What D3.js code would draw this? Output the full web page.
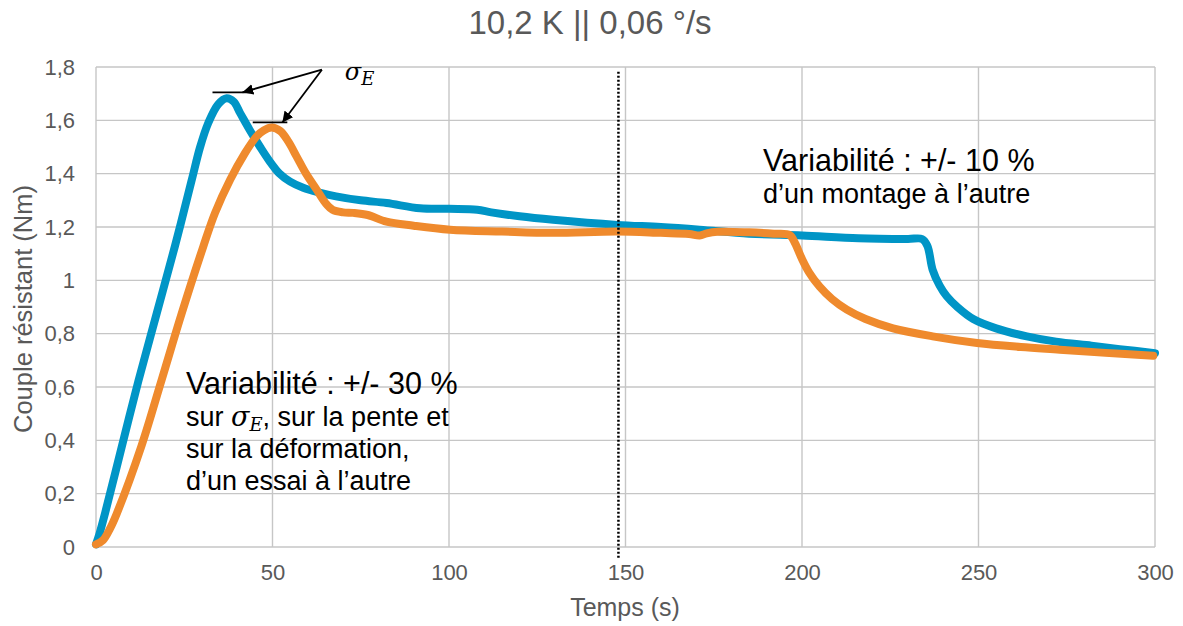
<!DOCTYPE html>
<html><head><meta charset="utf-8">
<script src="https://cdn.jsdelivr.net/npm/d3@7"></script>
<style>body{margin:0;background:#fff;} svg{display:block;font-family:"Liberation Sans",Arial,sans-serif;}</style>
</head><body>
<svg id="c" width="1183" height="626"></svg>
<script>
const title = "10,2 K || 0,06 °/s";
const xLabel = "Temps (s)";
const yLabel = "Couple résistant (Nm)";
const xTicks = [0, 50, 100, 150, 200, 250, 300];
const yTicks = [0, 0.2, 0.4, 0.6, 0.8, 1, 1.2, 1.4, 1.6, 1.8];
const yTickLabels = ["0", "0,2", "0,4", "0,6", "0,8", "1", "1,2", "1,4", "1,6", "1,8"];

const blueT = [0,1,2.55,7.3,12,17.2,22.4,27.1,29.5,31.8,34.6,37,39,40.8,43.5,46.5,49,52,55,58.7,63,68,75,82.3,91.8,100,108,112,120,129.5,147.6,160,171,185,200,216,230,234,235.5,237,239,241,244,248.5,255,263.7,272,282,290,300];
const blueV = [0.01,0.05,0.126,0.376,0.622,0.876,1.13,1.375,1.5,1.59,1.66,1.683,1.67,1.628,1.565,1.5,1.45,1.4,1.37,1.347,1.33,1.315,1.3,1.29,1.27,1.268,1.265,1.255,1.24,1.227,1.208,1.2,1.19,1.175,1.168,1.158,1.155,1.155,1.13,1.04,0.98,0.94,0.9,0.855,0.82,0.79,0.77,0.755,0.742,0.727];

const orangeT = [0,2,4,5.9,12.9,18.6,24.3,30.4,33.7,38,42.2,45.5,47.5,49.8,52.2,54.5,56.8,59.5,62.5,65,67,70,72.9,77,82.3,90,100.3,115,129.5,147.6,160,168,171,173,176,185,192,196.5,198,200,202,205,208.5,212.7,218,225.8,237,249.6,262,273,286,299.5];
const orangeV = [0.01,0.026,0.07,0.126,0.38,0.627,0.877,1.127,1.252,1.377,1.477,1.54,1.562,1.573,1.56,1.52,1.465,1.4,1.34,1.29,1.265,1.255,1.253,1.245,1.22,1.205,1.19,1.183,1.178,1.183,1.178,1.174,1.168,1.176,1.182,1.18,1.175,1.17,1.14,1.08,1.03,0.976,0.93,0.89,0.855,0.82,0.79,0.765,0.75,0.74,0.728,0.717];

const dottedX = 148;
const dottedY = [-0.04, 1.79];
// sigma_E annotation (data coordinates)
const sigmaLabelPos = [70.5, 1.75];
const arrowFrom = [64, 1.79];
const arrowTips = [[41.5, 1.705], [52.8, 1.592]];
const peakMarks = [[[33, 43.6], 1.705], [[44.4, 54.2], 1.592]];
const noteLeft = ["sur la déformation,", "d’un essai à l’autre"];

const svg = d3.select("#c");
const x = d3.scaleLinear().domain([0, 300]).range([96, 1155]);
const y = d3.scaleLinear().domain([0, 1.8]).range([547, 67]);
const grid = "#c6c6c6", tickCol = "#595959";

// gridlines
svg.append("g").selectAll("line").data(yTicks).join("line")
  .attr("x1", x(0)).attr("x2", x(300)).attr("y1", d => y(d)).attr("y2", d => y(d))
  .attr("stroke", grid).attr("stroke-width", 1.4);
svg.append("g").selectAll("line").data(xTicks).join("line")
  .attr("x1", d => x(d)).attr("x2", d => x(d)).attr("y1", y(0)).attr("y2", y(1.8))
  .attr("stroke", grid).attr("stroke-width", 1.4);

// axes via d3
const xAxis = svg.append("g").attr("transform", `translate(0,${y(0)})`)
  .call(d3.axisBottom(x).tickValues(xTicks).tickSize(0).tickPadding(17).tickFormat(d3.format("d")));
xAxis.select(".domain").remove();
xAxis.selectAll("text").attr("fill", tickCol).style("font-size", "22px").style("font-family", "Liberation Sans, Arial");
const yAxis = svg.append("g").attr("transform", `translate(${x(0)},0)`)
  .call(d3.axisLeft(y).tickValues(yTicks).tickSize(0).tickPadding(21).tickFormat((d, i) => yTickLabels[i]));
yAxis.select(".domain").remove();
yAxis.selectAll("text").attr("fill", tickCol).style("font-size", "22px").style("font-family", "Liberation Sans, Arial");

// titles
svg.append("text").attr("x", 590).attr("y", 34).attr("text-anchor", "middle")
  .attr("fill", tickCol).style("font-size", "33px").text(title);
svg.append("text").attr("x", 625).attr("y", 616).attr("text-anchor", "middle")
  .attr("fill", tickCol).style("font-size", "25px").text(xLabel);
svg.append("text").attr("transform", "translate(32,309) rotate(-90)").attr("text-anchor", "middle")
  .attr("fill", tickCol).style("font-size", "25.5px").text(yLabel);

// series
const line = d3.line().x(d => x(d[0])).y(d => y(d[1])).curve(d3.curveCatmullRom.alpha(0.5));
const orangeData = orangeT.map((t, i) => [t, orangeV[i]]);
const blueData = blueT.map((t, i) => [t, blueV[i]]);
svg.append("path").datum(blueData).attr("d", line).attr("fill", "none")
  .attr("stroke", "#0095c6").attr("stroke-width", 8).attr("stroke-linecap", "round").attr("stroke-linejoin", "round");
svg.append("path").datum(orangeData).attr("d", line).attr("fill", "none")
  .attr("stroke", "#ef8a2d").attr("stroke-width", 8).attr("stroke-linecap", "round").attr("stroke-linejoin", "round");

// dotted line
svg.append("line").attr("x1", x(dottedX)).attr("x2", x(dottedX))
  .attr("y1", y(dottedY[0])).attr("y2", y(dottedY[1]))
  .attr("stroke", "#000").attr("stroke-width", 2.5).attr("stroke-dasharray", "2,2");

// sigma annotation
svg.append("defs").append("marker").attr("id", "ah").attr("viewBox", "0 0 10 10")
  .attr("refX", 10).attr("refY", 5).attr("markerWidth", 6).attr("markerHeight", 6)
  .attr("markerUnits", "strokeWidth").attr("orient", "auto")
  .append("path").attr("d", "M0,0 L10,5 L0,10 Z").attr("fill", "#000");
svg.append("g").selectAll("line").data(peakMarks).join("line")
  .attr("x1", d => x(d[0][0])).attr("x2", d => x(d[0][1])).attr("y1", d => y(d[1])).attr("y2", d => y(d[1]))
  .attr("stroke", "#000").attr("stroke-width", 1.8);
svg.append("g").selectAll("line").data(arrowTips).join("line")
  .attr("x1", x(arrowFrom[0])).attr("y1", y(arrowFrom[1])).attr("x2", d => x(d[0])).attr("y2", d => y(d[1]))
  .attr("stroke", "#000").attr("stroke-width", 1.8).attr("marker-end", "url(#ah)");
const sig = svg.append("text").attr("x", x(sigmaLabelPos[0])).attr("y", y(sigmaLabelPos[1]))
  .style("font-family", "DejaVu Serif, Liberation Serif, serif").style("font-style", "italic").style("font-size", "24px").attr("fill", "#000");
sig.append("tspan").text("σ");
sig.append("tspan").attr("dy", 5).style("font-size", "18px").text("E");

// left note
const nl = svg.append("g").attr("fill", "#000");
nl.append("text").attr("x", 186).attr("y", 394).style("font-size", "30.5px").text("Variabilité : +/- 30 %");
const l2 = nl.append("text").attr("x", 186).attr("y", 426).style("font-size", "27px");
l2.append("tspan").text("sur ");
l2.append("tspan").style("font-family", "DejaVu Serif, Liberation Serif, serif").style("font-style", "italic").text("σ");
l2.append("tspan").attr("dy", 5).style("font-family", "DejaVu Serif, Liberation Serif, serif").style("font-style", "italic").style("font-size", "18px").text("E");
l2.append("tspan").attr("dy", -5).text(", sur la pente et");
nl.selectAll("text.n").data(noteLeft).join("text").attr("class", "n")
  .attr("x", 186).attr("y", (d, i) => 458 + i * 32).style("font-size", "27px").text(d => d);

// right note
svg.append("text").attr("x", 763).attr("y", 171).style("font-size", "30.5px").attr("fill", "#000").text("Variabilité : +/- 10 %");
svg.append("text").attr("x", 763).attr("y", 203).style("font-size", "27px").attr("fill", "#000").text("d’un montage à l’autre");
</script>
</body></html>
